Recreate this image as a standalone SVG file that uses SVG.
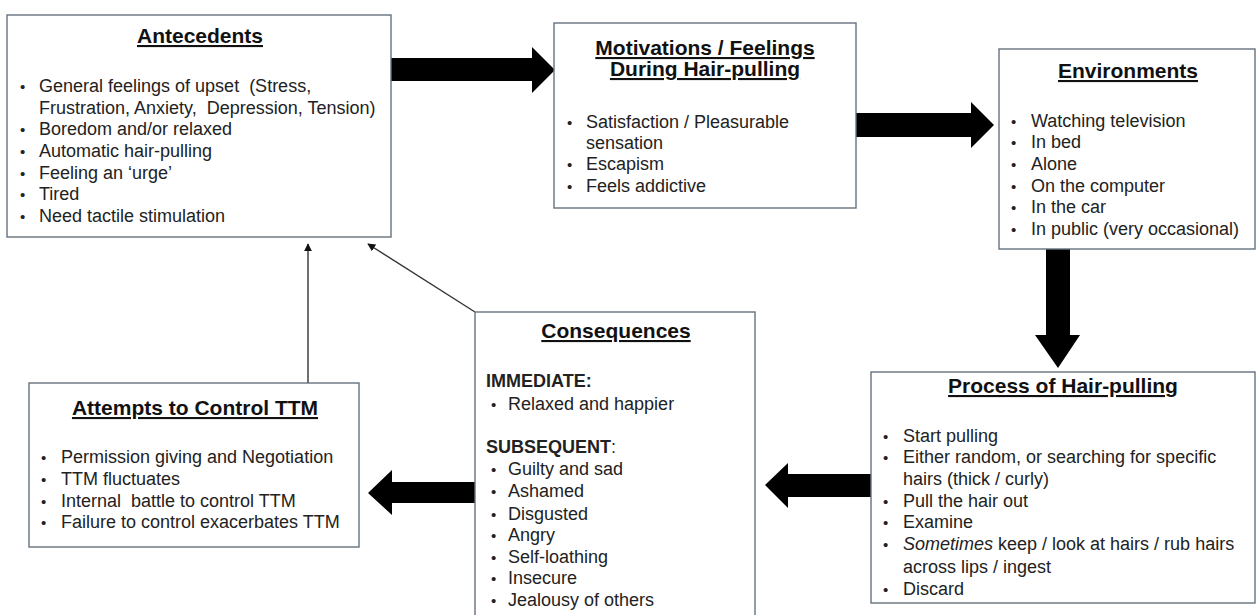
<svg xmlns="http://www.w3.org/2000/svg" width="1256" height="615" viewBox="0 0 1256 615">
<style>
text{white-space:pre}
.box{fill:#fff;stroke:#66717d;stroke-width:1.4}
.t{font-family:"Liberation Sans",Arial,sans-serif;font-size:21px;font-weight:bold;fill:#111;text-anchor:middle;text-decoration:underline}
.b{font-family:"Liberation Sans",Arial,sans-serif;font-size:18px;fill:#222}
.d{font-family:"Liberation Sans",Arial,sans-serif;font-size:15px;fill:#222}
.h{font-family:"Liberation Sans",Arial,sans-serif;font-size:18px;font-weight:bold;fill:#222}
.big{fill:#000}
.thin{stroke:#333;stroke-width:1.4;fill:none;marker-end:url(#ah)}
</style>
<defs>
<marker id="ah" viewBox="0 0 10 10" refX="9" refY="5" markerWidth="8" markerHeight="8" markerUnits="userSpaceOnUse" orient="auto">
<path d="M0,0 L10,5 L0,10 z" fill="#111"/>
</marker>
</defs>
<rect width="1256" height="615" fill="#fff"/>

<g id="connectors">
<polygon class="big" points="391,58 532,58 532,47 555,70 532,93 532,81 391,81"/>
<polygon class="big" points="856,113 971,113 971,102 994,125 971,148 971,137 856,137"/>
<polygon class="big" points="1046,249 1070,249 1070,335 1080,335 1058,368 1035,335 1046,335"/>
<polygon class="big" points="871,474 788,474 788,463 765,485 788,508 788,497 871,497"/>
<polygon class="big" points="475,482 392,482 392,470 368,493 392,515 392,503 475,503"/>
<line class="thin" x1="308" y1="383" x2="308" y2="244"/>
<line class="thin" x1="475" y1="312" x2="368" y2="244"/>
</g>

<g id="antecedents">
<rect class="box" x="7" y="15" width="384" height="222"/>
<text class="t" x="200" y="43">Antecedents</text>
<text class="d" x="20" y="92">•</text><text class="b" x="39" y="92">General feelings of upset  (Stress,</text>
<text class="b" x="39" y="114">Frustration, Anxiety,  Depression, Tension)</text>
<text class="d" x="20" y="135">•</text><text class="b" x="39" y="135">Boredom and/or relaxed</text>
<text class="d" x="20" y="157">•</text><text class="b" x="39" y="157">Automatic hair-pulling</text>
<text class="d" x="20" y="179">•</text><text class="b" x="39" y="179">Feeling an ‘urge’</text>
<text class="d" x="20" y="200">•</text><text class="b" x="39" y="200">Tired</text>
<text class="d" x="20" y="222">•</text><text class="b" x="39" y="222">Need tactile stimulation</text>
</g>

<g id="motivations">
<rect class="box" x="554" y="23" width="302" height="185"/>
<text class="t" x="705" y="55">Motivations / Feelings</text>
<text class="t" x="705" y="76">During Hair-pulling</text>
<text class="d" x="567" y="128">•</text><text class="b" x="586" y="128">Satisfaction / Pleasurable</text>
<text class="b" x="586" y="149">sensation</text>
<text class="d" x="567" y="170">•</text><text class="b" x="586" y="170">Escapism</text>
<text class="d" x="567" y="192">•</text><text class="b" x="586" y="192">Feels addictive</text>
</g>

<g id="environments">
<rect class="box" x="999" y="49" width="256" height="200"/>
<text class="t" x="1128" y="78">Environments</text>
<text class="d" x="1011" y="127">•</text><text class="b" x="1031" y="127">Watching television</text>
<text class="d" x="1011" y="148">•</text><text class="b" x="1031" y="148">In bed</text>
<text class="d" x="1011" y="170">•</text><text class="b" x="1031" y="170">Alone</text>
<text class="d" x="1011" y="192">•</text><text class="b" x="1031" y="192">On the computer</text>
<text class="d" x="1011" y="213">•</text><text class="b" x="1031" y="213">In the car</text>
<text class="d" x="1011" y="235">•</text><text class="b" x="1031" y="235">In public (very occasional)</text>
</g>

<g id="process">
<rect class="box" x="871" y="372" width="384" height="231"/>
<text class="t" x="1063" y="393">Process of Hair-pulling</text>
<text class="d" x="883" y="442">•</text><text class="b" x="903" y="442">Start pulling</text>
<text class="d" x="883" y="463">•</text><text class="b" x="903" y="463">Either random, or searching for specific</text>
<text class="b" x="903" y="485">hairs (thick / curly)</text>
<text class="d" x="883" y="507">•</text><text class="b" x="903" y="507">Pull the hair out</text>
<text class="d" x="883" y="528">•</text><text class="b" x="903" y="528">Examine</text>
<text class="d" x="883" y="550">•</text><text class="b" x="903" y="550"><tspan font-style="italic">Sometimes</tspan> keep / look at hairs / rub hairs</text>
<text class="b" x="903" y="573">across lips / ingest</text>
<text class="d" x="883" y="595">•</text><text class="b" x="903" y="595">Discard</text>
</g>

<g id="consequences">
<rect class="box" x="475" y="312" width="280" height="310"/>
<text class="t" x="616" y="338">Consequences</text>
<text class="h" x="486" y="387">IMMEDIATE:</text>
<text class="d" x="491" y="410">•</text><text class="b" x="508" y="410">Relaxed and happier</text>
<text class="h" x="486" y="453">SUBSEQUENT<tspan font-weight="normal">:</tspan></text>
<text class="d" x="491" y="475">•</text><text class="b" x="508" y="475">Guilty and sad</text>
<text class="d" x="491" y="497">•</text><text class="b" x="508" y="497">Ashamed</text>
<text class="d" x="491" y="520">•</text><text class="b" x="508" y="520">Disgusted</text>
<text class="d" x="491" y="541">•</text><text class="b" x="508" y="541">Angry</text>
<text class="d" x="491" y="563">•</text><text class="b" x="508" y="563">Self-loathing</text>
<text class="d" x="491" y="584">•</text><text class="b" x="508" y="584">Insecure</text>
<text class="d" x="491" y="606">•</text><text class="b" x="508" y="606">Jealousy of others</text>
</g>

<g id="attempts">
<rect class="box" x="29" y="383" width="330" height="164"/>
<text class="t" x="195" y="415">Attempts to Control TTM</text>
<text class="d" x="41" y="463">•</text><text class="b" x="61" y="463">Permission giving and Negotiation</text>
<text class="d" x="41" y="485">•</text><text class="b" x="61" y="485">TTM fluctuates</text>
<text class="d" x="41" y="507">•</text><text class="b" x="61" y="507">Internal  battle to control TTM</text>
<text class="d" x="41" y="528">•</text><text class="b" x="61" y="528">Failure to control exacerbates TTM</text>
</g>
</svg>
